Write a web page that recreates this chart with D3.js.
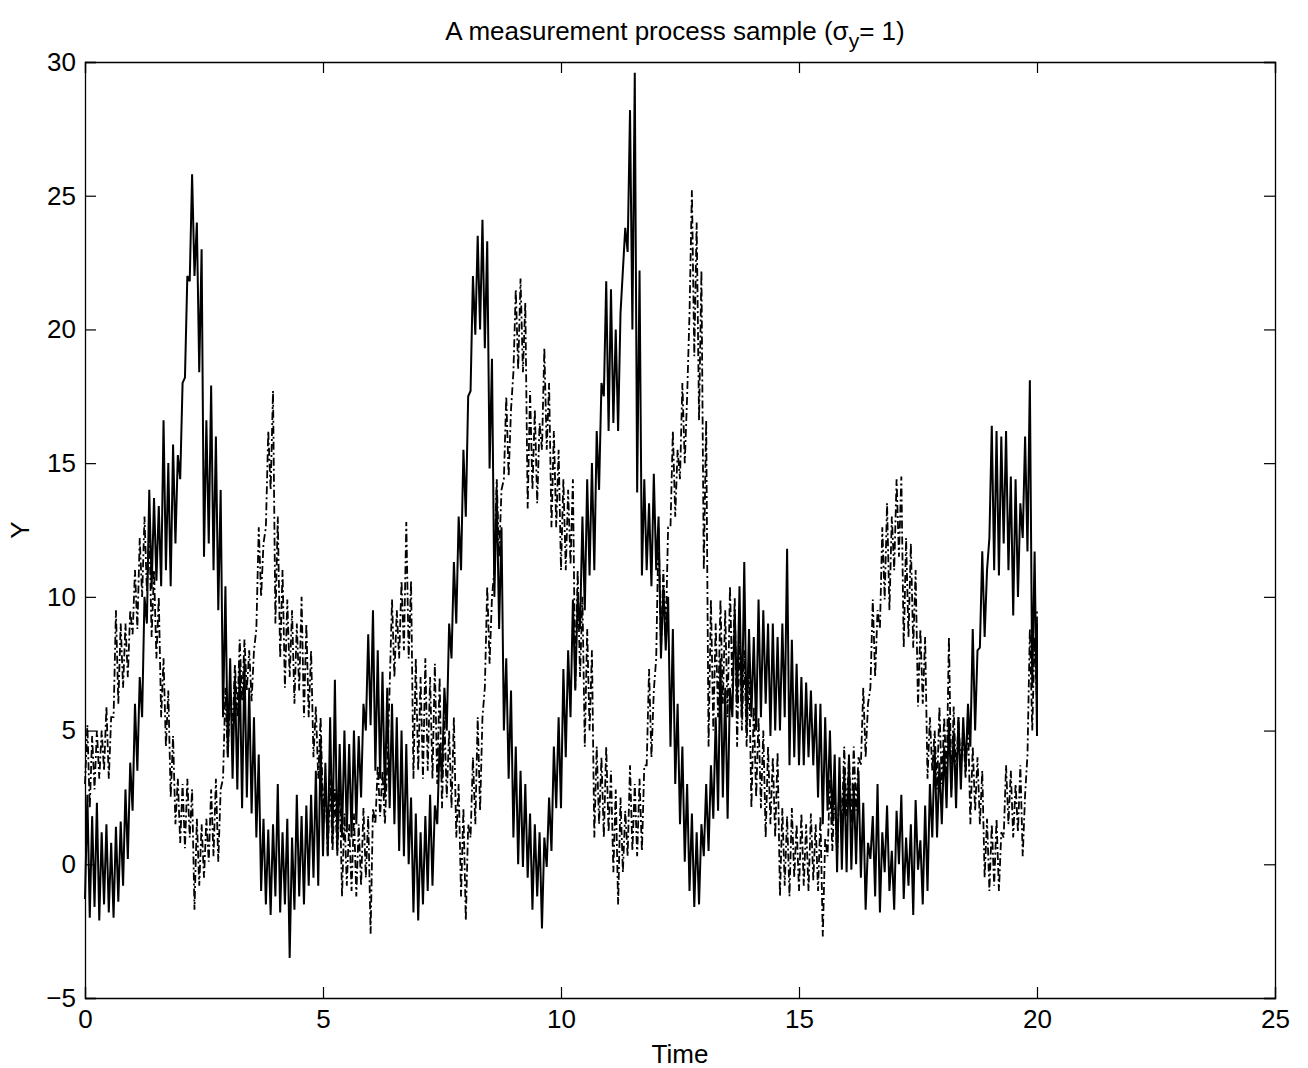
<!DOCTYPE html>
<html>
<head>
<meta charset="utf-8">
<script src="https://d3js.org/d3.v7.min.js"></script>
<style>
  body { margin: 0; background: #fff; }
  text { font-family: "Liberation Sans", Arial, sans-serif; fill: #000; }
</style>
</head>
<body>
<script>
// time grid of the readings (0 .. 20 step 0.1)
var times = d3.range(0, 201).map(function(i) { return i / 10; });

// solid trace: low / high of the noise band read at every time step
var solidLow = [
  -1.3, -2.0, -1.6, -2.1, -1.5, -1.8, -2.0, -1.4, -0.8, 0.2,
  2.0, 3.5, 5.5, 9.0, 10.3, 10.6, 10.4, 11.0, 10.4, 12.0,
  14.4, 18.2, 21.8, 22.0, 18.4, 11.5, 12.0, 11.0, 9.5, 5.5,
  4.0, 3.2, 2.8, 2.1, 2.5, 1.9, 1.0, -1.0, -1.5, -1.9,
  -1.2, -1.8, -1.5, -3.5, -1.7, -1.2, -1.5, -0.8, -0.5, -0.8,
  0.3, 0.3, 0.8, 0.5, 1.0, 1.2, 1.0, 1.5, 2.5, 5.0,
  5.2, 3.5, 3.2, 2.5, 2.1, 1.5, 0.5, 0.3, 0.0, -1.8,
  -2.1, -1.5, -1.0, -0.8, 1.5, 3.2, 5.0, 7.7, 9.0, 11.0,
  13.0, 17.7, 19.8, 20.0, 19.3, 14.8, 10.0, 8.8, 5.0, 3.2,
  1.0, 0.0, -0.1, -0.5, -1.7, -1.2, -2.4, -0.1, 0.5, 2.1,
  2.1, 4.0, 5.5, 6.5, 8.8, 9.5, 10.8, 11.0, 14.0, 17.5,
  16.2, 16.5, 16.2, 22.2, 22.9, 20.0, 13.9, 10.8, 11.0, 10.4,
  11.0, 7.7, 8.0, 4.4, 3.0, 1.5, 0.1, -1.0, -1.6, -1.5,
  0.3, 0.5, 1.7, 2.0, 2.5, 1.7, 5.5, 6.0, 5.5, 5.0,
  5.5, 5.0, 5.5, 6.0, 4.8, 5.0, 5.0, 5.5, 3.7, 4.0,
  3.7, 3.7, 4.0, 3.7, 2.5, 1.5, 2.0, 1.5, -0.3, -0.2,
  -0.3, -0.2, 0.0, -0.5, -1.7, 0.2, -1.2, -1.8, -0.3, -1.0,
  -1.7, 0.0, -1.3, -0.8, -1.9, -0.2, -1.5, -1.0, 1.0, 1.0,
  1.5, 2.1, 2.5, 2.1, 2.8, 3.5, 4.4, 5.0, 8.1, 8.5,
  12.2, 11.0, 10.8, 12.0, 11.0, 9.3, 10.0, 12.2, 11.7, 6.6,
  4.8
];
var solidHigh = [
  2.6, 1.8, 2.3, 1.2, 1.5, 0.8, 1.4, 1.6, 2.8, 3.8,
  6.0, 7.0, 10.0, 14.0, 13.7, 13.4, 16.6, 15.0, 15.7, 15.3,
  18.0, 22.0, 25.8, 24.0, 23.0, 16.6, 17.9, 16.0, 14.0, 10.4,
  7.7, 7.0, 7.5, 7.7, 6.6, 5.5, 4.1, 1.7, 1.3, 1.5,
  3.0, 1.2, 1.7, 1.0, 2.6, 1.8, 2.2, 2.6, 3.5, 4.6,
  3.8, 5.5, 6.9, 4.5, 5.0, 4.5, 5.0, 4.8, 6.0, 8.6,
  9.5, 8.0, 7.2, 6.6, 6.0, 5.5, 5.0, 4.5, 2.5, 1.9,
  1.2, 1.8, 2.6, 2.2, 4.5, 6.6, 9.0, 11.3, 13.0, 15.5,
  17.5, 22.0, 23.5, 24.1, 23.3, 18.9, 14.0, 12.6, 7.7, 6.5,
  4.4, 3.5, 3.0, 1.9, 1.5, 1.2, 1.0, 2.5, 4.4, 5.5,
  7.3, 8.0, 9.9, 10.0, 13.0, 14.4, 15.0, 16.2, 18.0, 21.8,
  21.5, 20.0, 20.6, 23.8, 28.2, 29.6, 22.2, 14.4, 13.5, 14.6,
  13.0, 10.4, 10.0, 8.8, 6.0, 4.4, 3.0, 1.9, 1.2, 1.5,
  3.0, 3.7, 5.5, 7.7, 6.6, 6.6, 9.5, 10.4, 11.3, 8.8,
  8.5, 9.9, 9.5, 9.0, 9.0, 8.5, 9.0, 11.8, 8.4, 7.5,
  7.0, 6.8, 6.5, 6.0, 6.0, 5.5, 5.0, 4.1, 4.0, 3.5,
  4.1, 3.0, 3.5, 2.3, 0.8, 1.8, 3.0, 1.2, 2.2, 0.5,
  2.0, 2.6, 1.0, 1.5, 2.4, 0.9, 2.2, 3.0, 4.4, 3.8,
  4.4, 5.5, 5.0, 5.5, 5.5, 6.0, 8.8, 8.0, 11.7, 11.0,
  16.4, 16.2, 16.0, 16.2, 14.5, 14.4, 13.5, 16.0, 18.1, 11.7,
  9.0
];

// dash-dot trace: low / high of the noise band
var dashLow = [
  3.0, 2.1, 2.8, 3.2, 3.5, 3.2, 5.5, 6.0, 6.6, 7.0,
  8.6, 8.8, 10.0, 10.2, 8.5, 7.7, 5.5, 4.4, 2.5, 1.5,
  0.8, 0.6, 1.0, -1.7, -0.8, -0.5, 0.1, 0.3, 0.1, 3.2,
  4.0, 5.0, 5.5, 6.1, 6.5, 6.1, 8.8, 10.0, 12.6, 14.0,
  9.0, 7.7, 6.6, 7.0, 6.0, 6.5, 5.5, 5.5, 4.0, 3.2,
  2.0, 0.3, 0.5, 0.3, -1.2, -0.8, -1.0, -1.2, -0.8, -0.5,
  -2.6, 1.5, 1.8, 1.5, 6.6, 7.0, 7.7, 8.0, 7.7, 3.2,
  3.5, 3.2, 3.5, 3.2, 3.0, 2.1, 2.5, 2.1, 1.0, -1.2,
  -2.1, 1.0, 1.5, 2.0, 6.6, 7.5, 11.0, 11.5, 14.4, 14.5,
  18.4, 18.5, 18.4, 13.3, 14.0, 13.5, 15.5, 15.5, 12.6, 12.6,
  11.0, 11.0, 11.2, 6.6, 7.0, 4.4, 5.0, 1.0, 1.5, 1.0,
  1.2, -0.3, -1.5, -0.3, 0.3, 0.5, 0.3, 0.5, 3.7, 4.0,
  7.7, 8.0, 8.5, 12.6, 13.0, 14.4, 15.0, 20.6, 19.0, 16.6,
  11.0, 4.4, 5.0, 5.5, 6.0, 5.5, 6.6, 4.4, 5.0, 4.4,
  2.1, 2.5, 2.1, 1.0, 1.5, 1.0, -1.2, -0.8, -1.2, -0.5,
  -1.0, -0.8, -1.0, -0.6, -1.0, -2.7, 0.3, 0.5, 0.3, 1.5,
  1.8, 1.5, 2.0, 3.7, 4.0, 6.6, 7.0, 8.8, 9.9, 9.5,
  11.0, 11.5, 8.1, 8.5, 8.1, 5.9, 6.0, 3.2, 3.5, 2.8,
  3.0, 3.2, 2.8, 3.2, 3.5, 3.2, 1.5, 2.0, 1.5, -0.5,
  -1.0, -0.8, -1.0, 1.0, 1.5, 1.0, 1.2, 0.3, 4.1, 5.0,
  6.0
];
var dashHigh = [
  5.2, 4.8, 5.0, 5.0, 5.9, 5.5, 9.5, 9.0, 9.0, 9.5,
  11.0, 12.2, 13.0, 12.5, 11.0, 10.0, 7.7, 6.5, 4.8, 3.2,
  3.0, 3.2, 2.8, 1.7, 1.5, 1.7, 2.8, 3.2, 2.8, 6.6,
  6.5, 7.5, 8.4, 8.4, 8.0, 8.0, 12.6, 12.0, 16.2, 17.7,
  13.0, 11.0, 9.9, 9.5, 9.0, 10.0, 9.0, 8.0, 5.9, 5.5,
  3.2, 3.2, 2.8, 3.0, 1.9, 1.5, 1.9, 1.5, 2.1, 1.8,
  2.1, 3.7, 3.5, 3.7, 9.9, 9.5, 10.6, 12.8, 10.6, 7.7,
  7.0, 7.7, 7.0, 7.5, 7.0, 5.5, 5.0, 5.5, 3.0, 2.1,
  1.5, 4.0, 5.5, 5.5, 10.4, 10.0, 14.4, 14.0, 17.5, 17.0,
  21.5, 21.9, 21.0, 17.7, 17.0, 16.5, 19.3, 18.0, 16.2, 15.5,
  14.4, 14.0, 14.4, 11.0, 10.0, 8.8, 8.0, 4.4, 4.0, 4.4,
  3.5, 2.8, 2.5, 2.0, 3.7, 3.0, 3.2, 3.7, 7.3, 6.5,
  12.6, 11.0, 12.6, 16.2, 15.5, 18.0, 17.5, 25.2, 24.0, 22.2,
  16.6, 9.9, 9.0, 9.9, 9.5, 10.4, 10.0, 8.6, 8.0, 7.5,
  5.9, 5.5, 5.0, 4.4, 4.0, 4.2, 2.1, 1.8, 2.1, 1.5,
  1.9, 1.5, 1.9, 1.5, 1.8, 1.0, 3.2, 2.8, 3.2, 4.4,
  4.0, 4.4, 4.0, 6.6, 6.0, 9.9, 9.5, 12.6, 13.5, 13.0,
  14.4, 14.5, 12.2, 12.0, 11.0, 8.8, 8.5, 5.5, 5.0, 5.9,
  5.5, 8.5, 5.9, 5.5, 5.0, 5.5, 4.4, 4.0, 3.5, 1.7,
  1.5, 1.7, 1.2, 3.7, 3.5, 3.0, 3.7, 2.6, 8.8, 8.5,
  9.5
];

// axis ticks
var xTicks = [0, 5, 10, 15, 20, 25];
var yTicks = [-5, 0, 5, 10, 15, 20, 25, 30];

var body = d3.select("body");

window.onload = function() {
  makeSVG();
}

// turn a low / high band into a zig-zag trace
function zigzag(lows, highs) {
  var pts = [];
  for (let i = 0; i < times.length; i++) {
    pts.push([times[i], lows[i]]);
    if (i < times.length - 1) {
      pts.push([times[i] + 0.05, highs[i]]);
    } else {
      pts.push([times[i], highs[i]]);
    }
  }
  return pts;
}

function makeSVG() {
  const svg_width = 1308
  const svg_height = 1068
  const margin = {top: 62, bottom: 70, right: 33, left: 85}
  var axis_width = svg_width - margin.left - margin.right;
  var axis_height = svg_height - margin.top - margin.bottom;

  var svg = body
    .append("svg")
    .attr("width", svg_width)
    .attr("height", svg_height)
    .append("g")
    .attr("transform", "translate(" + margin.left + "," + margin.top + ")");

  var x_scaling = d3.scaleLinear()
    .domain([0, 25])
    .range([0, axis_width]);

  var y_scaling = d3.scaleLinear()
    .domain([-5, 30])
    .range([axis_height, 0]);

  var line = d3.line()
    .x(function(d) { return x_scaling(d[0]); })
    .y(function(d) { return y_scaling(d[1]); });

  // the two measured traces
  svg.append("path")
    .datum(zigzag(dashLow, dashHigh))
    .attr("fill", "none")
    .attr("stroke", "#000")
    .attr("stroke-width", 1.8)
    .attr("stroke-dasharray", "8,3,2,3")
    .attr("d", line);

  svg.append("path")
    .datum(zigzag(solidLow, solidHigh))
    .attr("fill", "none")
    .attr("stroke", "#000")
    .attr("stroke-width", 2)
    .attr("d", line);

  // axes: ticks pointing inwards on all four sides
  var tickLen = 11;
  svg.append("g")
    .attr("class", "x axis")
    .attr("transform", "translate(0," + axis_height + ")")
    .call(d3.axisBottom(x_scaling).tickValues(xTicks).tickSize(-tickLen).tickPadding(12).tickFormat(d3.format("d")));

  svg.append("g")
    .call(d3.axisTop(x_scaling).tickValues(xTicks).tickSize(-tickLen).tickFormat(""));

  svg.append("g")
    .attr("class", "y axis")
    .call(d3.axisLeft(y_scaling).tickValues(yTicks).tickSize(-tickLen).tickPadding(9)
      .tickFormat(function(d) { return d < 0 ? "\u2212" + Math.abs(d) : d; }));

  svg.append("g")
    .attr("transform", "translate(" + axis_width + ",0)")
    .call(d3.axisRight(y_scaling).tickValues(yTicks).tickSize(-tickLen).tickFormat(""));

  svg.selectAll(".domain").attr("stroke", "#000").attr("stroke-width", 1.3);
  svg.selectAll(".tick line").attr("stroke", "#000").attr("stroke-width", 1.2);
  svg.selectAll(".tick text")
    .style("font-family", "'Liberation Sans', Arial, sans-serif")
    .style("font-size", "26px")
    .attr("fill", "#000");

  // labels
  svg.append("text")
    .attr("x", axis_width / 2)
    .attr("y", axis_height + 65)
    .attr("text-anchor", "middle")
    .style("font-size", "26px")
    .text("Time");

  svg.append("text")
    .attr("transform", "rotate(-90)")
    .attr("x", -axis_height / 2)
    .attr("y", -56)
    .attr("text-anchor", "middle")
    .style("font-size", "26px")
    .text("Y");

  var title = svg.append("text")
    .attr("x", axis_width / 2 - 5)
    .attr("y", -22)
    .attr("text-anchor", "middle")
    .style("font-size", "26px");
  title.append("tspan").text("A measurement process sample (\u03c3");
  title.append("tspan").attr("dy", 8).style("font-size", "21px").text("y");
  title.append("tspan").attr("dy", -8).text("= 1)");
}
</script>
</body>
</html>
